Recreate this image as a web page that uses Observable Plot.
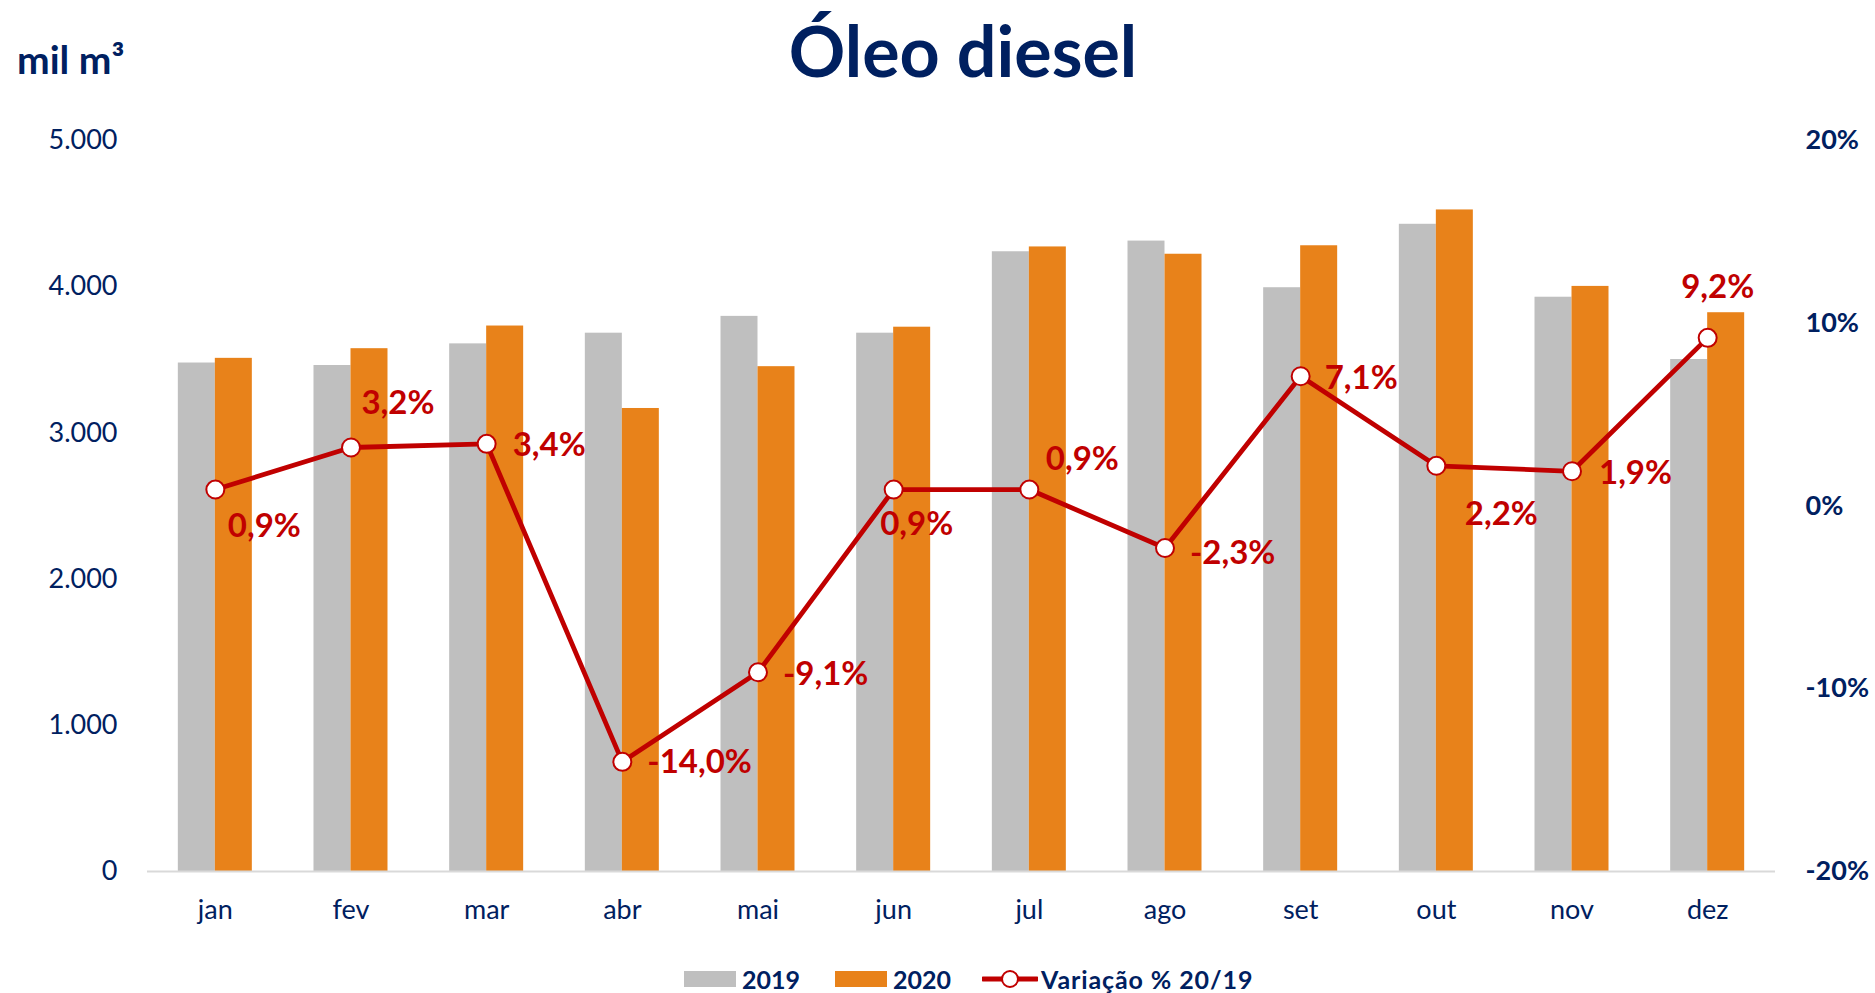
<!DOCTYPE html>
<html>
<head>
<meta charset="utf-8">
<script src="https://cdn.jsdelivr.net/npm/d3@7"></script>
<script src="https://cdn.jsdelivr.net/npm/@observablehq/plot@0.6"></script>
<style>
  body { margin:0; background:#fff; width:1875px; height:993px; overflow:hidden; font-family: Lato, "Open Sans", sans-serif; position:relative; }
  #head { position:relative; height:100px; }
  #title { position:absolute; left:963px; top:15px; transform:translateX(-50%); font-size:70px; font-weight:700; color:#002060; line-height:70px; white-space:nowrap; }
  #unit { position:absolute; left:17px; top:40px; font-size:39px; font-weight:700; color:#002060; line-height:39px; white-space:nowrap; }
  #chart svg { display:block; }
  #legend { position:absolute; left:684px; top:965px; display:flex; align-items:center; font-size:25px; font-weight:700; color:#002060; line-height:28px; white-space:nowrap; }
  .sw { width:52px; height:16px; display:inline-block; }
</style>
</head>
<body>
<div id="head">
  <div id="unit">mil m³</div>
  <div id="title">Óleo diesel</div>
</div>
<div id="chart"></div>
<div id="legend">
  <span class="sw" style="background:#BFBFBF"></span><span style="margin-left:6px">2019</span>
  <span class="sw" style="background:#E8821A;margin-left:35px"></span><span style="margin-left:6px">2020</span>
  <svg width="56" height="20" style="margin-left:31px"><line x1="1" y1="10" x2="55" y2="10" stroke="#C00000" stroke-width="5" stroke-linecap="round"/><circle cx="28" cy="10" r="8" fill="#fff" stroke="#C00000" stroke-width="2"/></svg><span style="margin-left:3px;letter-spacing:0.9px">Variação % 20/19</span>
</div>
<script>
const months = ["jan","fev","mar","abr","mai","jun","jul","ago","set","out","nov","dez"];
const v2019 = [3478, 3461, 3609, 3682, 3797, 3682, 4239, 4312, 3993, 4427, 3928, 3502];
const v2020 = [3510, 3576, 3731, 3167, 3453, 3723, 4272, 4222, 4280, 4525, 4002, 3822];
const variacao = [0.9, 3.2, 3.4, -14.0, -9.1, 0.9, 0.9, -2.3, 7.1, 2.2, 1.9, 9.2];
const leftTicks = [0, 1000, 2000, 3000, 4000, 5000];
const rightTicks = [-20, -10, 0, 10, 20];

const rows = months.map((m, i) => ({month: m, y2019: v2019[i], y2020: v2020[i], pct: variacao[i]}));
// secondary axis (-20%..20%) mapped onto the primary y domain (0..5000)
const pctToY = p => (p + 20) / 40 * 5000;
const yToPct = v => Math.round(v / 5000 * 40 - 20);

const ptbr = d3.formatLocale({decimal: ",", thousands: ".", grouping: [3], currency: ["R$", ""]});
const fmtThousands = ptbr.format(",.0f");
const fmtPct = v => v.toFixed(1).replace(".", ",") + "%";

// label placement relative to each point
const placement = {
  jan: {textAnchor: "middle", dx: 49, dy: 37},
  fev: {textAnchor: "middle", dx: 47, dy: -44},
  mar: {textAnchor: "start", dx: 26, dy: 2},
  abr: {textAnchor: "start", dx: 25, dy: 1},
  mai: {textAnchor: "start", dx: 25, dy: 2},
  jun: {textAnchor: "middle", dx: 23, dy: 35},
  jul: {textAnchor: "middle", dx: 53, dy: -30},
  ago: {textAnchor: "start", dx: 25, dy: 5},
  set: {textAnchor: "start", dx: 24, dy: 2},
  out: {textAnchor: "middle", dx: 65, dy: 49},
  nov: {textAnchor: "start", dx: 27, dy: 2},
  dez: {textAnchor: "middle", dx: 10, dy: -50}
};

const chart = Plot.plot({
  width: 1875,
  height: 840,
  marginLeft: 147,
  marginRight: 100,
  marginTop: 40,
  marginBottom: 69,
  style: {fontFamily: "Lato, 'Open Sans', sans-serif", background: "#fff"},
  x: {domain: months, paddingInner: 0.7273, paddingOuter: 0.3636, round: false, label: null},
  y: {domain: [0, 5000], label: null},
  marks: [
    Plot.barY(rows, {x: "month", y: "y2019", fill: "#BFBFBF", dx: -18.5}),
    Plot.barY(rows, {x: "month", y: "y2020", fill: "#E8821A", dx: 18.5}),
    Plot.ruleY([0], {stroke: "#D9D9D9", strokeWidth: 2}),
    Plot.axisX({tickSize: 0, tickPadding: 28, fontSize: 27, fill: "#002060", label: null}),
    Plot.axisY({anchor: "left", ticks: leftTicks, tickFormat: fmtThousands, tickSize: 0, tickPadding: 30, fontSize: 27, fill: "#002060", label: null}),
    Plot.axisY({anchor: "right", ticks: rightTicks.map(pctToY), tickFormat: v => yToPct(v) + "%", tickSize: 0, tickPadding: 30, textAnchor: "start", fontSize: 27, fontWeight: "bold", fill: "#002060", label: null}),
    Plot.lineY(rows, {x: "month", y: d => pctToY(d.pct), stroke: "#C00000", strokeWidth: 4.8}),
    Plot.dot(rows, {x: "month", y: d => pctToY(d.pct), r: 9, fill: "white", stroke: "#C00000", strokeWidth: 2}),
    ...rows.map(d => Plot.text([d], {
      x: "month", y: r => pctToY(r.pct), text: r => fmtPct(r.pct),
      fill: "#C00000", fontSize: 33, fontWeight: "bold",
      ...placement[d.month]
    }))
  ]
});
document.getElementById("chart").appendChild(chart);
</script>
</body>
</html>
